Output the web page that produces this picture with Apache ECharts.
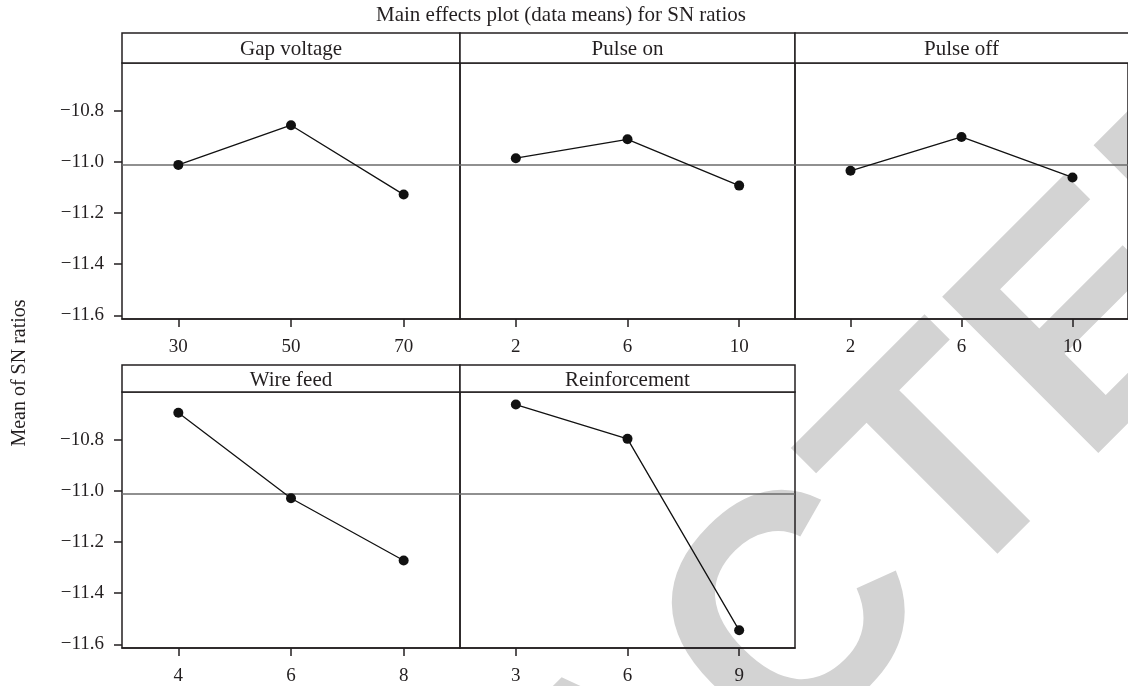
<!DOCTYPE html>
<html>
<head>
<meta charset="utf-8">
<script src="https://cdn.jsdelivr.net/npm/echarts@6/dist/echarts.min.js"></script>
<style>
html,body{margin:0;padding:0;background:#fff;}
#chart{width:1128px;height:686px;}
</style>
</head>
<body>
<div id="chart"></div>
<script>
// ---- data ----
const chartTitle = 'Main effects plot (data means) for SN ratios';
const yAxisTitle = 'Mean of SN ratios';
const factorNames = ['Gap voltage', 'Pulse on', 'Pulse off', 'Wire feed', 'Reinforcement'];
const gapLevels = ['30', '50', '70'];
const gapMeans = [-11.012, -10.857, -11.128];
const pulseOnLevels = ['2', '6', '10'];
const pulseOnMeans = [-10.986, -10.912, -11.093];
const pulseOffLevels = ['2', '6', '10'];
const pulseOffMeans = [-11.035, -10.903, -11.061];
const wireLevels = ['4', '6', '8'];
const wireMeans = [-10.695, -11.029, -11.272];
const reinfLevels = ['3', '6', '9'];
const reinfMeans = [-10.663, -10.797, -11.545];
const grandMean = -11.006;
const yTicks = [-11.6, -11.4, -11.2, -11.0, -10.8];
const watermarkText = 'RETRACTED';

const levelSets = [gapLevels, pulseOnLevels, pulseOffLevels, wireLevels, reinfLevels];
const meanSets = [gapMeans, pulseOnMeans, pulseOffMeans, wireMeans, reinfMeans];

// ---- layout ----
const INK = '#231f20';
const FONT = '"Liberation Serif", "Times New Roman", serif';
const panelBoxes = [
  {left: 122, width: 338, top: 63, height: 256, stripTop: 33},
  {left: 460, width: 335, top: 63, height: 256, stripTop: 33},
  {left: 795, width: 338, top: 63, height: 256, stripTop: 33},
  {left: 122, width: 338, top: 392, height: 257, stripTop: 365},
  {left: 460, width: 335, top: 392, height: 257, stripTop: 365}
];
const showY = [true, false, false, true, false];
const yMin = -11.614, yMax = -10.614;

const fmt = v => (Math.round(v * 10) / 10).toFixed(1).replace('-', '\u2212');

const grids = [], xAxes = [], yAxes = [], series = [], graphics = [];

panelBoxes.forEach((b, i) => {
  grids.push({left: b.left, top: b.top, width: b.width, height: b.height,
    show: true, borderColor: INK, borderWidth: 1.5, backgroundColor: 'transparent', containLabel: false});
  xAxes.push({
    type: 'category', gridIndex: i, data: levelSets[i], boundaryGap: true,
    axisLine: {show: true, lineStyle: {color: INK, width: 1.5}},
    axisTick: {show: true, alignWithLabel: true, length: 8, inside: false, lineStyle: {color: INK, width: 1.5}},
    axisLabel: {show: true, margin: 19, color: INK, fontFamily: FONT, fontSize: 19},
    splitLine: {show: false}
  });
  yAxes.push({
    type: 'value', gridIndex: i, min: yMin, max: yMax,
    axisLine: {show: false},
    axisTick: {show: showY[i], length: 8, customValues: yTicks, lineStyle: {color: INK, width: 1.5}},
    axisLabel: {show: showY[i], margin: 18, color: INK, fontFamily: FONT, fontSize: 19,
      customValues: yTicks, formatter: fmt},
    splitLine: {show: false}
  });
  series.push({
    type: 'line', xAxisIndex: i, yAxisIndex: i, data: meanSets[i],
    symbol: 'circle', symbolSize: 10, showSymbol: true,
    lineStyle: {color: '#111', width: 1.3},
    itemStyle: {color: '#111'},
    z: 5, animation: false,
    markLine: {
      silent: true, symbol: ['none', 'none'], label: {show: false},
      lineStyle: {color: '#6b6b6b', width: 1.6, type: 'solid'},
      data: [{yAxis: grandMean}], animation: false
    }
  });
  graphics.push({
    type: 'rect', z: 10,
    shape: {x: b.left, y: b.stripTop, width: b.width, height: b.top - b.stripTop},
    style: {fill: '#fff', stroke: INK, lineWidth: 1.5}
  });
  graphics.push({
    type: 'text', z: 11,
    x: b.left + b.width / 2 - (i === 2 ? 2.5 : 0), y: (b.stripTop + b.top) / 2 + 1.5,
    style: {text: factorNames[i], fill: INK, font: '21px ' + FONT, align: 'center', verticalAlign: 'middle'}
  });
});

// y axis title
graphics.push({
  type: 'text', z: 11, x: 20, y: 373, rotation: Math.PI / 2,
  style: {text: yAxisTitle, fill: INK, font: '20px ' + FONT, align: 'center', verticalAlign: 'middle'}
});
// watermark
graphics.push({
  type: 'text', z: -100, x: 636, y: 790, rotation: Math.PI / 4,
  style: {text: watermarkText, fill: '#d3d3d3', font: 'bold 321px "Liberation Sans", Arial, sans-serif',
    align: 'center', verticalAlign: 'middle'}
});

const chart = echarts.init(document.getElementById('chart'), null, {renderer: 'canvas'});
chart.setOption({
  backgroundColor: '#fff',
  animation: false,
  title: {text: chartTitle, left: 556, top: 0, textAlign: 'center',
    textStyle: {color: INK, fontFamily: FONT, fontSize: 21, fontWeight: 'normal'}},
  grid: grids, xAxis: xAxes, yAxis: yAxes, series: series,
  graphic: {elements: graphics}
});
</script>
</body>
</html>
